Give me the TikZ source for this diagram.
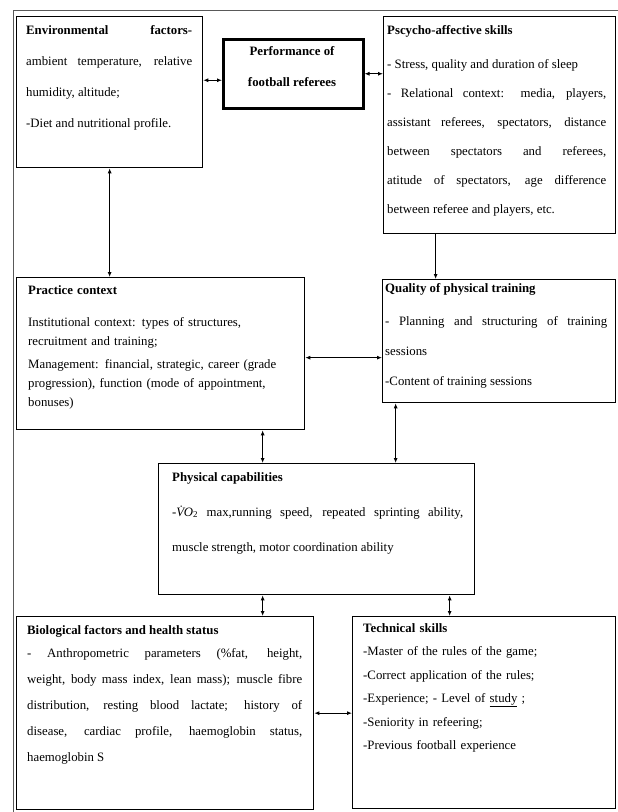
\documentclass[tikz,border=0pt]{standalone}
\usepackage{fontspec}
\setmainfont{Liberation Serif}
\usetikzlibrary{arrows.meta}
\tikzset{
    box/.style={draw,line width=1.3pt,anchor=north west,inner sep=0pt},
    txt/.style={anchor=base west,inner sep=0pt,align=justify,font=\fontsize{12.8pt}{#1pt}\selectfont},
}
\begin{document}
\begin{tikzpicture}[x=1pt,y=-1pt,>={Latex[length=5pt,width=4pt]}]
        \useasboundingbox (0,0) rectangle (618,812);
        %% outer frame
        \draw[black!65] (13,812) -- (13,10) -- (618,10);
        %% top row
        \node[box,minimum width=186pt,minimum height=151pt] (env) at (16,16) {};
        \node[txt=31,text width=166pt] (envtxt) at (26,34) {\textbf{Environmental factors-}\linebreak ambient temperature, relative\linebreak humidity, altitude;\\ -Diet and nutritional profile.};
        \node[box,line width=2.5pt,minimum width=140pt,minimum height=69pt] (perf) at (222,38) {};
        \node[txt=31,anchor=base,align=center,font=\fontsize{12.8pt}{31pt}\selectfont\bfseries] (perftxt) at (292,86) {Performance of\\ football referees};
        \node[box,minimum width=232pt,minimum height=217pt] (psy) at (383,16) {};
        \node[txt=29,text width=219pt] (psytxt) at (387,34) {\textbf{Pscycho-affective skills}\\[5pt] - Stress, quality and duration of sleep\\ - Relational context: media, players,\linebreak assistant referees, spectators, distance\linebreak between spectators and referees,\linebreak atitude of spectators, age difference\linebreak between referee and players, etc.};
        %% middle row
        \node[box,minimum width=288pt,minimum height=152pt] (prac) at (16,277) {};
        \node[txt=19,text width=270pt,align=left] (practxt) at (28,294) {\textbf{Practice context}\\[13pt] Institutional context: types of structures,\\ recruitment and training;\\[4pt] Management: financial, strategic, career (grade\\ progression), function (mode of appointment,\\ bonuses)};
        \node[box,minimum width=233pt,minimum height=123pt] (qual) at (382,279) {};
        \node[txt=30,text width=222pt] (qualtxt) at (385,292) {\textbf{Quality of physical training}\\[3pt] - Planning and structuring of training\linebreak sessions\\ -Content of training sessions};
        \node[box,minimum width=316pt,minimum height=131pt] (phys) at (158,463) {};
        \node[txt=35,text width=291pt] (phystxt) at (172,481) {\textbf{Physical capabilities}\\ -\textit{\.VO}\textsubscript{2} max,running speed, repeated sprinting ability,\linebreak muscle strength, motor coordination ability};
        %% bottom row
        \node[box,minimum width=297pt,minimum height=193pt] (bio) at (16,616) {};
        \node[txt=26,text width=275pt] (biotxt) at (27,634) {\textbf{Biological factors and health status}\\[-3pt] - Anthropometric parameters (\%fat, height,\linebreak weight, body mass index, lean mass); muscle fibre\linebreak distribution, resting blood lactate; history of\linebreak disease, cardiac profile, haemoglobin status,\linebreak haemoglobin S};
        \node[box,minimum width=263pt,minimum height=192pt] (tech) at (352,616) {};
        \node[txt=23.5,text width=240pt,align=left] (techtxt) at (363,632) {\textbf{Technical skills}\\ -Master of the rules of the game;\\ -Correct application of the rules;\\ -Experience; - Level of \underline{study} ;\\ -Seniority in refeering;\\ -Previous football experience};
        %% connectors
        \coordinate (ep) at ([yshift=-6.5pt]perf.west);
        \coordinate (ps) at ([xshift=-64pt]psy.south);
        \coordinate (pq) at ([yshift=-4pt]prac.east);
        \coordinate (pp) at ([xshift=-54pt]phys.north);
        \coordinate (qp) at ([xshift=79pt]phys.north);
        \coordinate (pb) at ([xshift=-54pt]phys.south);
        \coordinate (pt) at ([xshift=133pt]phys.south);
        \draw[<->,line width=0.9pt] (ep -| env.east) -- (ep);
        \draw[<->,line width=0.9pt] (perf.east) -- (perf.east -| psy.west);
        \draw[<->,line width=0.9pt] (env.south) -- (env.south |- prac.north);
        \draw[->,line width=0.9pt] (ps) -- (ps |- qual.north);
        \draw[<->,line width=0.9pt] (pq) -- (pq -| qual.west);
        \draw[<->,line width=0.9pt] (pp |- prac.south) -- (pp);
        \draw[<->,line width=0.9pt] (qp |- qual.south) -- (qp);
        \draw[<->,line width=0.9pt] (pb) -- (pb |- bio.north);
        \draw[<->,line width=1.6pt] (pt) -- (pt |- tech.north);
        \draw[<->,line width=0.9pt] (bio.east) -- (bio.east -| tech.west);
    \end{tikzpicture}
\end{document}
